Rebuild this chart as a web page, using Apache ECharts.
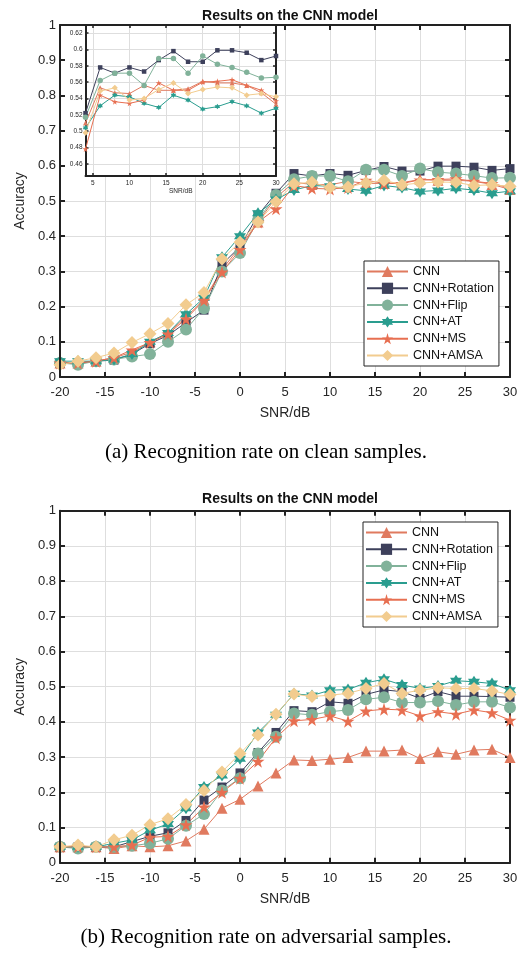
<!DOCTYPE html>
<html>
<head>
<meta charset="utf-8">
<script src="https://cdn.jsdelivr.net/npm/echarts@6/dist/echarts.min.js"></script>
<style>
html,body{margin:0;padding:0;background:#fff;}
#c{width:532px;height:953px;}
</style>
</head>
<body>
<div id="c"></div>
<script>
// ---- data ----
const snr = [-20,-18,-16,-14,-12,-10,-8,-6,-4,-2,0,2,4,6,8,10,12,14,16,18,20,22,24,26,28,30];
const seriesNames = ['CNN','CNN+Rotation','CNN+Flip','CNN+AT','CNN+MS','CNN+AMSA'];

// (a) clean samples
const cleanCNN      = [0.040,0.040,0.045,0.055,0.070,0.100,0.125,0.170,0.220,0.305,0.370,0.440,0.510,0.553,0.547,0.546,0.556,0.550,0.550,0.552,0.561,0.559,0.559,0.556,0.547,0.533];
const cleanRotation = [0.040,0.040,0.045,0.048,0.065,0.095,0.118,0.155,0.190,0.320,0.370,0.460,0.522,0.578,0.571,0.578,0.573,0.587,0.598,0.585,0.585,0.599,0.599,0.596,0.587,0.592];
const cleanFlip     = [0.040,0.035,0.045,0.050,0.058,0.065,0.100,0.135,0.195,0.300,0.352,0.445,0.517,0.562,0.571,0.571,0.556,0.589,0.589,0.571,0.592,0.582,0.578,0.572,0.565,0.566];
const cleanAT       = [0.045,0.045,0.045,0.050,0.065,0.100,0.125,0.178,0.225,0.340,0.400,0.465,0.504,0.531,0.544,0.542,0.534,0.529,0.544,0.538,0.527,0.530,0.536,0.531,0.522,0.528];
const cleanMS       = [0.040,0.040,0.045,0.055,0.077,0.098,0.122,0.165,0.218,0.298,0.362,0.440,0.478,0.544,0.536,0.534,0.538,0.559,0.550,0.550,0.560,0.561,0.563,0.556,0.550,0.537];
const cleanAMSA     = [0.035,0.045,0.055,0.068,0.098,0.123,0.152,0.205,0.240,0.335,0.383,0.440,0.498,0.549,0.553,0.538,0.540,0.551,0.559,0.546,0.551,0.554,0.553,0.544,0.546,0.542];

// (b) adversarial samples
const advCNN      = [0.045,0.045,0.045,0.040,0.048,0.045,0.048,0.062,0.095,0.155,0.180,0.218,0.255,0.292,0.290,0.294,0.299,0.317,0.317,0.320,0.296,0.315,0.308,0.320,0.322,0.299];
const advRotation = [0.045,0.045,0.045,0.045,0.060,0.075,0.085,0.120,0.178,0.215,0.255,0.313,0.370,0.432,0.429,0.457,0.453,0.478,0.491,0.486,0.467,0.486,0.473,0.473,0.472,0.470];
const advFlip     = [0.045,0.040,0.045,0.045,0.048,0.055,0.068,0.105,0.138,0.205,0.240,0.310,0.358,0.424,0.420,0.429,0.434,0.464,0.470,0.455,0.455,0.459,0.448,0.457,0.457,0.441];
const advAT       = [0.045,0.045,0.045,0.055,0.065,0.092,0.110,0.155,0.215,0.248,0.295,0.370,0.420,0.480,0.475,0.490,0.492,0.511,0.521,0.505,0.495,0.502,0.517,0.514,0.509,0.490];
const advMS       = [0.045,0.045,0.045,0.045,0.050,0.072,0.075,0.108,0.158,0.200,0.240,0.288,0.355,0.403,0.407,0.417,0.402,0.431,0.436,0.434,0.417,0.429,0.422,0.434,0.426,0.405];
const advAMSA     = [0.045,0.050,0.045,0.065,0.078,0.108,0.125,0.165,0.205,0.258,0.310,0.363,0.422,0.479,0.472,0.476,0.481,0.495,0.509,0.481,0.490,0.497,0.495,0.495,0.488,0.478];

// tick labels
const insetXTicks = [5,10,15,20,25,30];
const insetYTicks = [0.46,0.48,0.50,0.52,0.54,0.56,0.58,0.60,0.62];

// ---- styles ----
const colors = ['#E07A5F','#3D405B','#81B29A','#2A9D8F','#E76F51','#F2CC8F'];
const STAR5 = 'path://M50,0 L61,35 L98,35 L68,57 L79,91 L50,70 L21,91 L32,57 L2,35 L39,35 Z';
const HEX6  = 'path://M50,0 L64,25 L93,25 L79,50 L93,75 L64,75 L50,100 L36,75 L7,75 L21,50 L7,25 L36,25 Z';
const symbols = ['triangle','rect','circle',HEX6,STAR5,'diamond'];
const bigSizes = [11,9,12,12,13,13];
const smallSizes = [5,4.5,5.5,5.5,6,6];

const cleanAll = [cleanCNN,cleanRotation,cleanFlip,cleanAT,cleanMS,cleanAMSA];
const advAll = [advCNN,advRotation,advFlip,advAT,advMS,advAMSA];

const txt = '#262626';
const axisFont = 'Liberation Sans, Arial, sans-serif';
const gridLine = {show:true, lineStyle:{color:'#DEDEDE', width:1}};

function pairs(vals, minX){
  const out = [];
  for (let i=0;i<snr.length;i++){ if (minX===undefined || snr[i]>=minX) out.push([snr[i], vals[i]]); }
  return out;
}

const series = [];
function addSeries(all, xi, yi, sizes, z, minX){
  all.forEach((vals, k) => {
    series.push({
      name: seriesNames[k], type:'line', xAxisIndex: xi, yAxisIndex: yi,
      data: pairs(vals, minX), symbol: symbols[k], symbolSize: sizes[k],
      showAllSymbol: true, clip: true, z: z, animation:false,
      lineStyle:{color: colors[k], width:1},
      itemStyle:{color: colors[k], borderWidth:0}
    });
  });
}
addSeries(cleanAll, 0, 0, bigSizes, 2);
addSeries(advAll, 4, 4, bigSizes, 2);
addSeries(cleanAll, 2, 2, smallSizes, 12, 4);

function mainX(gi, top){
  return {
    gridIndex: gi, type:'value', min:-20, max:30, interval:5, position: top?'top':'bottom',
    axisLine:{show:true, onZero:false, lineStyle:{color:'#222', width:2}},
    axisTick:{show:true, inside:true, length:5, lineStyle:{color:'#222', width:2}},
    axisLabel:{show:!top, color:txt, fontSize:13, fontFamily:axisFont, margin:9},
    splitLine: top ? {show:false} : gridLine,
    name: top ? '' : 'SNR/dB', nameLocation:'middle', nameGap:29,
    nameTextStyle:{color:txt, fontSize:14, fontFamily:axisFont}
  };
}
function mainY(gi, right){
  return {
    gridIndex: gi, type:'value', min:0, max:1, interval:0.1, position: right?'right':'left',
    z: right ? 0 : 20,
    axisLine:{show:true, onZero:false, lineStyle:{color:'#222', width:2}},
    axisTick:{show:true, inside:true, length:5, lineStyle:{color:'#222', width:2}},
    axisLabel:{show:!right, color:txt, fontSize:13, fontFamily:axisFont, margin:4},
    splitLine: right ? gridLine : {show:false},
    name: right ? '' : 'Accuracy', nameLocation:'middle', nameGap:28, nameRotate:90,
    nameTextStyle:{color:txt, fontSize:14, fontFamily:axisFont}
  };
}
function insetX(top){
  return {
    gridIndex:1, type:'value', min:4, max:30, position: top?'top':'bottom', z:10,
    axisLine:{show:true, onZero:false, lineStyle:{color:'#222', width:2}},
    axisTick:{show:true, inside:true, length:3, customValues: insetXTicks, lineStyle:{color:'#222', width:1.5}},
    axisLabel:{show:!top, customValues: insetXTicks, color:txt, fontSize:6.5, fontFamily:axisFont, margin:4},
    splitLine: top ? {show:false} : gridLine,
    name: top ? '' : 'SNR/dB', nameLocation:'middle', nameGap:11,
    nameTextStyle:{color:txt, fontSize:6.5, fontFamily:axisFont}
  };
}
function insetY(right){
  return {
    gridIndex:1, type:'value', min:0.445, max:0.63, position: right?'right':'left', z:10,
    axisLine:{show:true, onZero:false, lineStyle:{color:'#222', width:2}},
    axisTick:{show:true, inside:true, length:3, customValues: insetYTicks, lineStyle:{color:'#222', width:1.5}},
    axisLabel:{show:!right, customValues: insetYTicks, color:txt, fontSize:6.5, fontFamily:axisFont, margin:3},
    splitLine: right ? {show:false} : gridLine
  };
}

function legend(top, left){
  return {
    data: seriesNames, orient:'vertical', left: left, top: top,
    backgroundColor:'#fff', borderColor:'#222', borderWidth:1,
    padding:[4,5,4,2], itemWidth:41, itemHeight:14, itemGap:3.8,
    textStyle:{color:'#111', fontSize:12.5, fontFamily:axisFont},
    selectedMode:false
  };
}

const option = {
  animation:false,
  backgroundColor:'#fff',
  title:[
    {text:'Results on the CNN model', left:285, top:4, textAlign:'center',
     textStyle:{fontSize:14, fontWeight:'bold', color:'#111', fontFamily:axisFont}},
    {text:'Results on the CNN model', left:285, top:487, textAlign:'center',
     textStyle:{fontSize:14, fontWeight:'bold', color:'#111', fontFamily:axisFont}}
  ],
  grid:[
    {left:60, top:25, width:450, height:352},
    {left:85.5, top:25, width:190.5, height:151, z:10},
    {left:60, top:510.7, width:450, height:352}
  ],
  xAxis:[ mainX(0,false), mainX(0,true), insetX(false), insetX(true), mainX(2,false), mainX(2,true) ],
  yAxis:[ mainY(0,false), mainY(0,true), insetY(false), insetY(true), mainY(2,false), mainY(2,true) ],
  legend:[ legend(261, 364), legend(522, 363) ],
  graphic:[
    {type:'rect', shape:{x:62, y:26, width:214, height:150}, style:{fill:'#fff'}, z:9, silent:true},
    {type:'text', left:'center', top:442, style:{text:'(a) Recognition rate on clean samples.', fill:'#000', font:'21px "Liberation Serif", "Times New Roman", serif'}},
    {type:'text', left:'center', top:927, style:{text:'(b) Recognition rate on adversarial samples.', fill:'#000', font:'21px "Liberation Serif", "Times New Roman", serif'}}
  ],
  series: series
};

const chart = echarts.init(document.getElementById('c'), null, {renderer:'canvas'});
chart.setOption(option);
</script>
</body>
</html>
